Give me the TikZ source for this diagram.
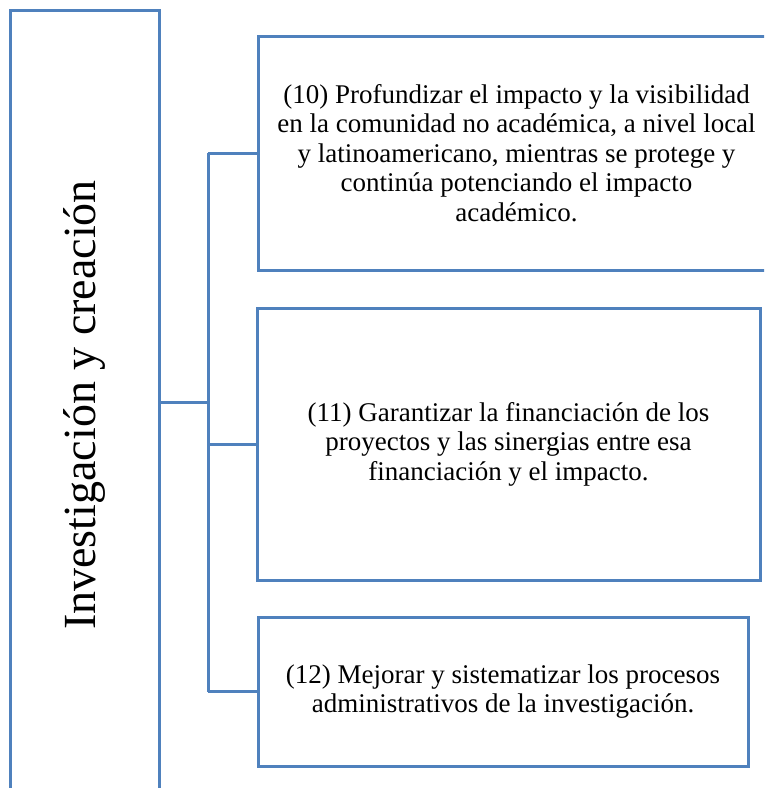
\documentclass[tikz,border=0pt]{standalone}
\usepackage{fontspec}
\setmainfont{Liberation Serif}
\definecolor{boxblue}{HTML}{4F81BD}

\begin{document}
\begin{tikzpicture}[
                  x=1pt, y=-1pt,
                  box/.style={draw=boxblue, line width=3pt, fill=white,
                    align=center, inner sep=0pt,
                    font=\fontsize{27}{29.5}\selectfont},
                  link/.style={draw=boxblue, line width=3pt}
                ]
                  \useasboundingbox (0,0) rectangle (764,788);
                  \clip (0,0) rectangle (764,788);
                  \node[box, minimum width=149pt, minimum height=790pt] (area) at (84.5,405)
                    {\rotatebox{90}{\fontsize{46}{52}\selectfont Investigación y creación}};
                  \node[box, minimum width=517pt, minimum height=234pt] (g10) at (516.5,153)
                    {(10) Profundizar el impacto y la visibilidad\\
                     en la comunidad no académica, a nivel local\\
                     y latinoamericano, mientras se protege y\\
                     continúa potenciando el impacto\\
                     académico.};
                  \node[box, minimum width=503pt, minimum height=272pt] (g11) at (508.5,444)
                    {(11) Garantizar la financiación de los\\
                     proyectos y las sinergias entre esa\\
                     financiación y el impacto.};
                  \node[box, minimum width=490pt, minimum height=149pt] (g12) at (503,691.5)
                    {(12) Mejorar y sistematizar los procesos\\
                     administrativos de la investigación.};
                  % tree links
                  \coordinate (fork) at (208,402);
                  \draw[link] (area.east |- fork) -- (fork);
                  \draw[link] (fork |- g10.west) -- (fork |- g12.west);
                  \draw[link] (fork |- g10.west) -- (g10.west);
                  \draw[link] (fork |- g11.west) -- (g11.west);
                  \draw[link] (fork |- g12.west) -- (g12.west);
                \end{tikzpicture}
\end{document}
